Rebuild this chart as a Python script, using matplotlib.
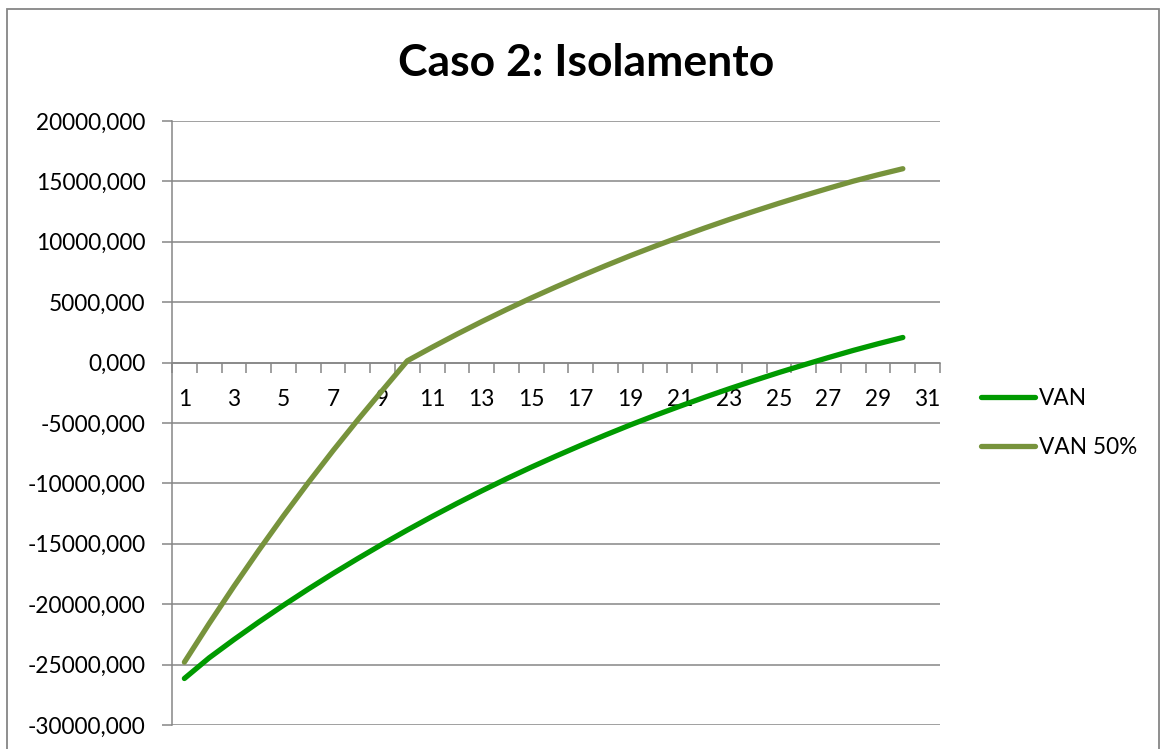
import matplotlib
matplotlib.use("Agg")
import matplotlib.pyplot as plt
from matplotlib.patches import Rectangle
from matplotlib.ticker import FuncFormatter

# Cumulative net present value per year (euros)
years = list(range(1, 31))
van = [-26150, -24440, -22930, -21480, -20090, -18750, -17460, -16220, -15020, -13860,
       -12740, -11660, -10620, -9620, -8660, -7740, -6850, -5990, -5160, -4370,
       -3610, -2870, -2160, -1480, -820, -190, 420, 1010, 1560, 2080]
van_50 = [-24800, -21600, -18520, -15550, -12690, -9940, -7290, -4740, -2280, 150,
          1270, 2350, 3390, 4390, 5350, 6270, 7160, 8020, 8850, 9640,
          10400, 11140, 11850, 12530, 13190, 13820, 14430, 15020, 15550, 16050]
series_names = ["VAN", "VAN 50%"]
x_tick_labels = [str(i) for i in range(1, 32, 2)]
y_ticks = list(range(-30000, 20001, 5000))

FONT = "Lato"
GREY = "#868686"
plt.rcParams["font.family"] = [FONT, "DejaVu Sans"]

W, H = 1162, 749
fig = plt.figure(figsize=(W / 100, H / 100), dpi=100)
fig.patch.set_facecolor("white")

# chart frame
fig.patches.append(Rectangle((7 / W, -0.05), (1159 - 7) / W, (1 - 9 / H) + 0.05,
                             transform=fig.transFigure, fill=False,
                             edgecolor=GREY, lw=1.3))

left, right, top, bottom = 172, 940, 121, 725
ax = fig.add_axes([left / W, 1 - bottom / H, (right - left) / W, (bottom - top) / H])
ax.set_xlim(0.5, 31.5)
ax.set_ylim(y_ticks[0], y_ticks[-1])

# y axis
ax.set_yticks(y_ticks)
ax.yaxis.set_major_formatter(FuncFormatter(lambda v, p: f"{v:.3f}".replace(".", ",")))
ax.yaxis.grid(True, color=GREY, lw=1.1)
ax.set_axisbelow(True)
ax.tick_params(axis="y", direction="out", length=7, width=1.1, color=GREY,
               pad=12, labelsize=16.3)

# category axis crossing at zero
ax.spines["top"].set_visible(False)
ax.spines["right"].set_visible(False)
ax.spines["left"].set_color(GREY)
ax.spines["left"].set_linewidth(1.1)
ax.spines["bottom"].set_position(("data", 0))
ax.spines["bottom"].set_color(GREY)
ax.spines["bottom"].set_linewidth(1.1)
ax.set_xticks([k + 0.5 for k in range(0, 32)])
ax.tick_params(axis="x", which="major", direction="out", length=7, width=1.1,
               color=GREY, labelbottom=False)
ax.set_xticks(list(range(1, 32, 2)), labels=x_tick_labels, minor=True)
ax.tick_params(axis="x", which="minor", length=0, pad=19, labelsize=16.3)

ax.plot(years, van, color="#009A00", lw=3.8, solid_capstyle="round",
        label=series_names[0], zorder=3, clip_on=False)
ax.plot(years, van_50, color="#77933C", lw=3.8, solid_capstyle="round",
        label=series_names[1], zorder=3, clip_on=False)

fig.legend(loc="upper left", bbox_to_anchor=(981 / W, 1 - 388 / H),
           bbox_transform=fig.transFigure, frameon=False, fontsize=16.3,
           handlelength=2.4, handletextpad=0.15, labelspacing=1.25,
           borderpad=0, borderaxespad=0)

fig.text(586 / W, 1 - 63 / H, "Caso 2: Isolamento", ha="center", va="center",
         fontsize=32, fontweight="bold")

fig.savefig("out.png", dpi=100)
